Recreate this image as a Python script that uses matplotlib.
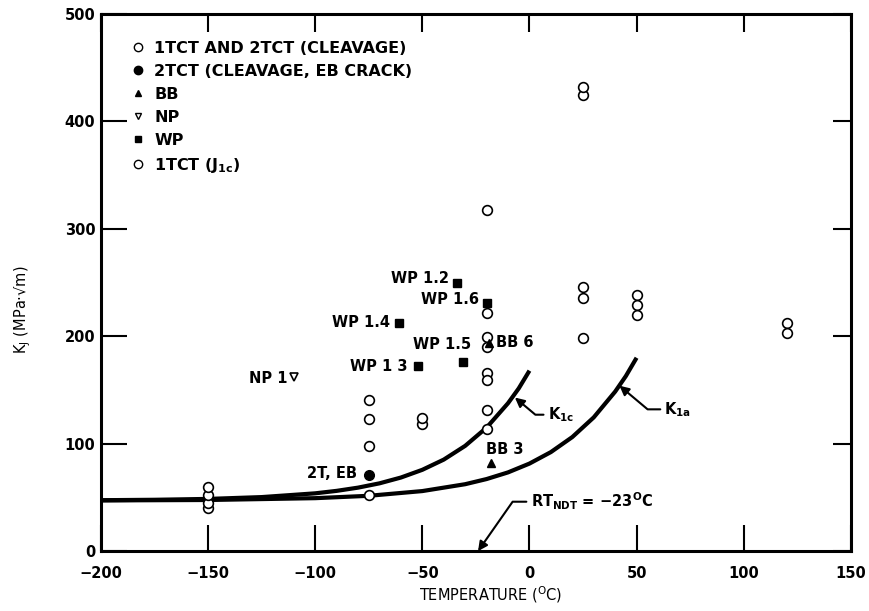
import matplotlib.pyplot as plt
from matplotlib.lines import Line2D

plt.rcParams['font.family'] = ['DejaVu Sans']
plt.rcParams['font.weight'] = 'bold'
plt.rcParams['mathtext.default'] = 'regular'

# open circles: 1TCT and 2TCT (cleavage) / 1TCT (J1c)
open_t = [-150, -150, -150, -150, -75, -75, -75, -75, -50, -50,
          -20, -20, -20, -20, -20, -20, -20, -20,
          25, 25, 25, 25, 25, 50, 50, 50, 120, 120]
open_k = [40, 45, 52, 60, 141, 123, 98, 52, 118, 124,
          318, 222, 199, 190, 166, 159, 131, 114,
          425, 432, 246, 236, 198, 238, 229, 220, 212, 203]

# 2TCT cleavage, EB crack
eb_t = [-75]
eb_k = [71]

# bend bars
bb_t = [-19, -18]
bb_k = [194, 82]

# NP
np_t = [-110]
np_k = [162]

# WP
wp_t = [-34, -20, -61, -31, -52]
wp_k = [250, 231, 212, 176, 172]

# lower-bound curves
kic_t = [-200, -175, -150, -125, -100, -90, -80, -70, -60, -50, -40, -30, -20, -10, -5, 0]
kic_k = [47.4, 47.8, 48.6, 50.3, 53.8, 56.1, 59.1, 63.1, 68.5, 75.7, 85.2, 98, 115, 137.7, 151.5, 168]
kia_t = [-200, -150, -100, -75, -50, -30, -20, -10, 0, 10, 20, 30, 40, 45, 50]
kia_k = [47.2, 47.6, 49.3, 51.5, 55.9, 62.3, 67.1, 73.3, 81.5, 92.2, 106.2, 124.5, 148.5, 163, 180]

xticks = [-200, -150, -100, -50, 0, 50, 100, 150]
yticks = [0, 100, 200, 300, 400, 500]

fig = plt.figure(figsize=(8.7, 6.11), dpi=100)
ax = fig.add_axes([0.116, 0.098, 0.862, 0.879])

ax.plot(kic_t, kic_k, color='black', lw=3.0, solid_capstyle='butt')
ax.plot(kia_t, kia_k, color='black', lw=3.0, solid_capstyle='butt')

ax.plot(open_t, open_k, 'o', ms=7, mfc='white', mec='black', mew=1.2)
ax.plot(eb_t, eb_k, 'o', ms=7, mfc='black', mec='black')
ax.plot(bb_t, bb_k, '^', ms=6, mfc='black', mec='black')
ax.plot(np_t, np_k, 'v', ms=6, mfc='white', mec='black', mew=1.2)
ax.plot(wp_t, wp_k, 's', ms=6, mfc='black', mec='black')

fs = 10.5
ax.text(-37.5, 254, "WP 1.2", ha='right', va='center', fontsize=fs)
ax.text(-23.5, 234, "WP 1.6", ha='right', va='center', fontsize=fs)
ax.text(-65, 213, "WP 1.4", ha='right', va='center', fontsize=fs)
ax.text(-54.5, 192, "WP 1.5", ha='left', va='center', fontsize=fs)
ax.text(-57, 172, "WP 1 3", ha='right', va='center', fontsize=fs)
ax.text(-15.5, 194, "BB 6", ha='left', va='center', fontsize=fs)
ax.text(-20.5, 95, "BB 3", ha='left', va='center', fontsize=fs)
ax.text(-113, 161, "NP 1", ha='right', va='center', fontsize=fs)
ax.text(-80.5, 72, "2T, EB", ha='right', va='center', fontsize=fs)

ap = dict(arrowstyle='-|>', color='black', lw=1.5, mutation_scale=14,
          shrinkA=1, shrinkB=0, connectionstyle='angle,angleA=0,angleB=-40,rad=0')
ax.annotate("K$_{1c}$", xy=(-6.8, 143), xytext=(8.5, 127), fontsize=fs,
            ha='left', va='center', arrowprops=ap)
ax.annotate("K$_{1a}$", xy=(42, 154), xytext=(63, 132), fontsize=fs,
            ha='left', va='center', arrowprops=ap)
ap2 = dict(ap, connectionstyle='angle,angleA=0,angleB=55,rad=0')
ax.annotate("RT$_{NDT}$ = \u221223$^{O}$C", xy=(-24, 0), xytext=(0.5, 46), fontsize=fs,
            ha='left', va='center', arrowprops=ap2)

handles = [
    Line2D([], [], ls='', marker='o', ms=6, mfc='white', mec='black'),
    Line2D([], [], ls='', marker='o', ms=6, mfc='black', mec='black'),
    Line2D([], [], ls='', marker='^', ms=5, mfc='black', mec='black'),
    Line2D([], [], ls='', marker='v', ms=5, mfc='white', mec='black'),
    Line2D([], [], ls='', marker='s', ms=5, mfc='black', mec='black'),
    Line2D([], [], ls='', marker='o', ms=6, mfc='white', mec='black'),
]
labels = ["1TCT AND 2TCT (CLEAVAGE)", "2TCT (CLEAVAGE, EB CRACK)", "BB", "NP", "WP",
          "1TCT (J$_{1c}$)"]
ax.legend(handles, labels, loc='upper left', bbox_to_anchor=(0.035, 0.962), frameon=False,
          fontsize=11.5, handlelength=0.6, handletextpad=0.7, labelspacing=0.5,
          borderaxespad=0)

ax.set_xlim(-200, 150)
ax.set_ylim(0, 500)
ax.set_xticks(xticks)
ax.set_xticklabels(["\u2212200", "\u2212150", "\u2212100", "\u221250", "0", "50", "100", "150"])
ax.set_yticks(yticks)
ax.tick_params(direction='in', length=19, width=1.5, labelsize=10.5)
ax.tick_params(axis='x', pad=11)
ax.tick_params(axis='y', pad=4)

# shorter ticks along the top and right edges
top = ax.secondary_xaxis('top')
top.set_xticks(xticks)
top.tick_params(direction='in', length=13, width=1.5, labeltop=False)
right = ax.secondary_yaxis('right')
right.set_yticks(yticks)
right.tick_params(direction='in', length=13, width=1.5, labelright=False)

for s in ax.spines.values():
    s.set_linewidth(2.2)
ax.set_xlabel("TEMPERATURE ($^{O}$C)", fontsize=10.5)
ax.xaxis.set_label_coords(0.52, -0.062)
ax.set_ylabel("K$_{J}$ (MPa\u00b7\u221am)", fontsize=10.5)
ax.yaxis.set_label_coords(-0.09, 0.45)

fig.savefig("out.png", dpi=100)
